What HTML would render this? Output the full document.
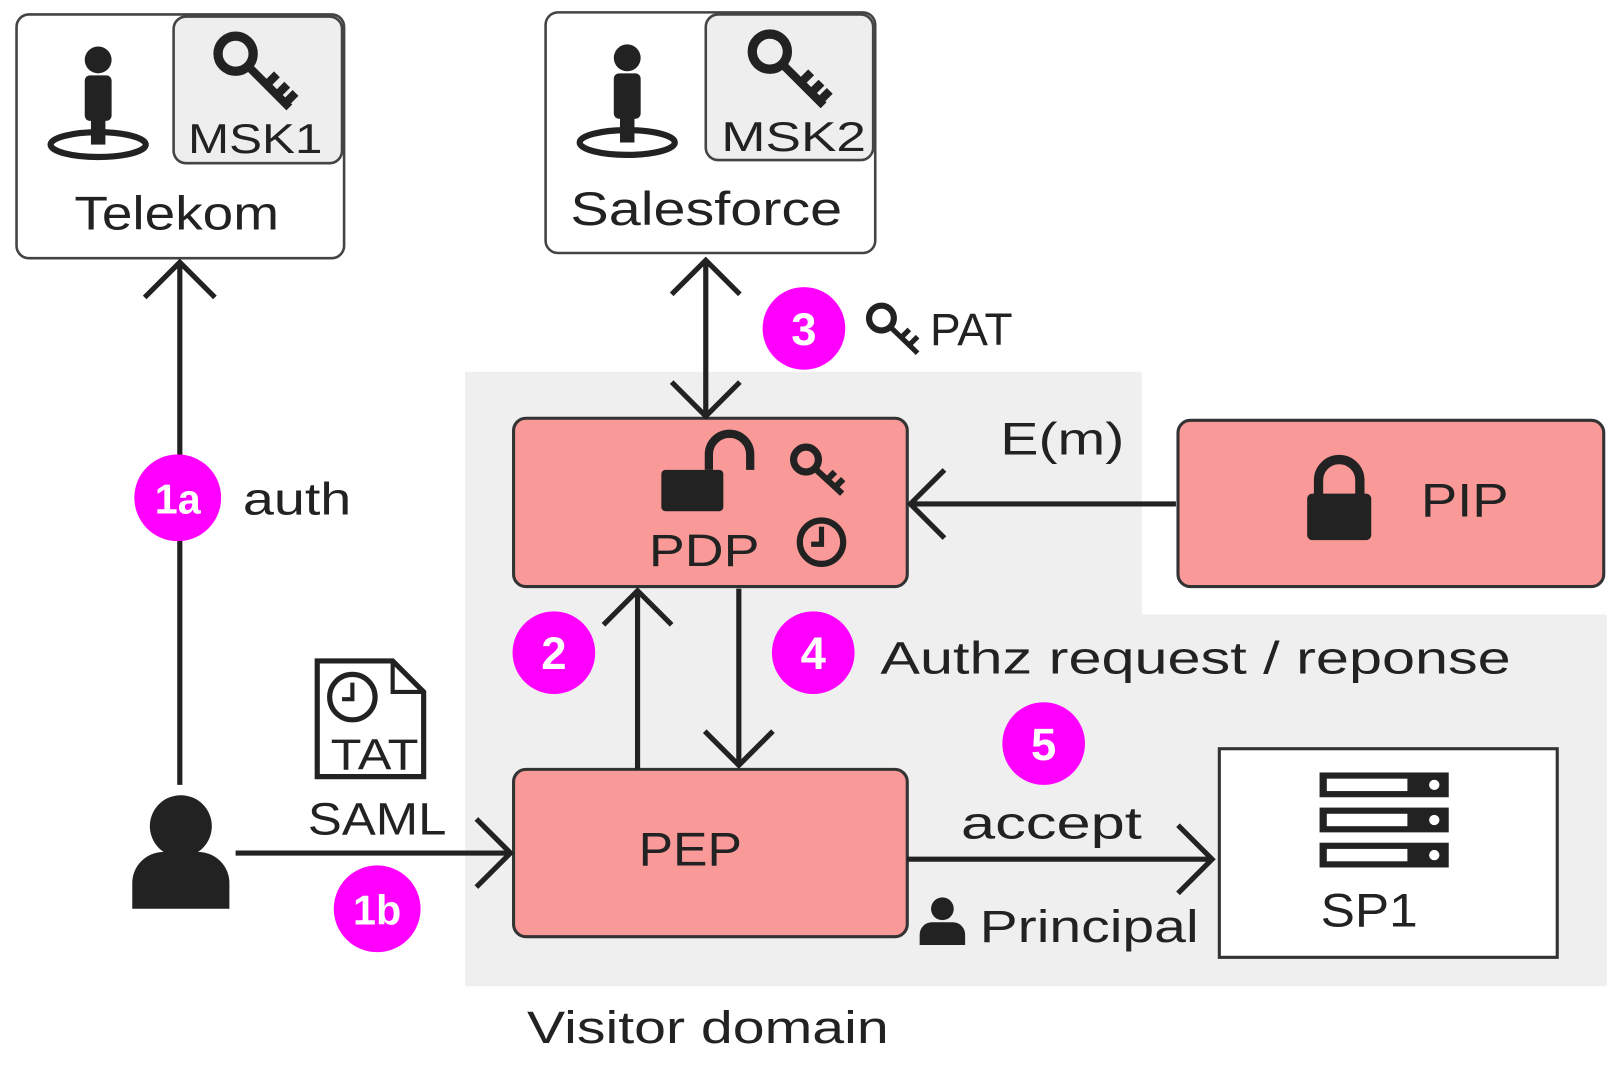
<!DOCTYPE html>
<html><head><meta charset="utf-8"><style>
html,body{margin:0;padding:0;background:#fff;}
svg{display:block;}
text{font-family:"Liberation Sans",sans-serif;fill:#222;}
</style></head><body>
<svg width="1612" height="1073" viewBox="0 0 1560 1039" preserveAspectRatio="none" xmlns="http://www.w3.org/2000/svg">
<defs>
<g id="person">
<circle cx="0" cy="-42" r="13" fill="#222"/>
<rect x="-13" y="-27" width="26" height="44" rx="5" fill="#222"/>
<rect x="-7" y="10" width="14" height="30" fill="#222"/>
<ellipse cx="0" cy="40" rx="46" ry="12" fill="none" stroke="#222" stroke-width="6"/>
</g>
<g id="key">
<circle cx="0" cy="0" r="17" fill="none" stroke="#222" stroke-width="9"/>
<path d="M12 12 L52 52 M30 30 L40 20 M40 40 L50 30 M48 48 L58 38" stroke="#222" stroke-width="8" fill="none"/>
</g>
</defs>
<path d="M450 360 H1105 V595 H1555 V955 H450 Z" fill="#efefef"/>

<rect x="16" y="14" width="317" height="236" rx="12" fill="#fff" stroke="#444" stroke-width="2.5"/>
<rect x="168" y="16" width="163" height="142" rx="12" fill="#eee" stroke="#444" stroke-width="2.5"/>
<use href="#person" x="95" y="100"/>
<use href="#key" x="228" y="52"/>
<text x="182" y="148" font-size="40" textLength="130" lengthAdjust="spacingAndGlyphs">MSK1</text>
<text x="72" y="222" font-size="46" textLength="198" lengthAdjust="spacingAndGlyphs">Telekom</text>

<rect x="528" y="12" width="319" height="233" rx="12" fill="#fff" stroke="#444" stroke-width="2.5"/>
<rect x="683" y="14" width="162" height="141" rx="12" fill="#eee" stroke="#444" stroke-width="2.5"/>
<use href="#person" x="607" y="98"/>
<use href="#key" x="745" y="50"/>
<text x="698" y="146" font-size="40" textLength="140" lengthAdjust="spacingAndGlyphs">MSK2</text>
<text x="552" y="218" font-size="46" textLength="263" lengthAdjust="spacingAndGlyphs">Salesforce</text>

<rect x="497" y="405" width="381" height="163" rx="12" fill="#f99a98" stroke="#333" stroke-width="3"/>
<rect x="640" y="455" width="60" height="40" rx="4" fill="#222"/>
<path d="M686 455 V440 a20 20 0 0 1 40 0 V455" fill="none" stroke="#222" stroke-width="8"/>
<circle cx="780" cy="445" r="12" fill="none" stroke="#222" stroke-width="7"/>
<path d="M789 454 L815 478 M800 465 L808 457 M808 472 L816 464" stroke="#222" stroke-width="6" fill="none"/>
<circle cx="795" cy="525" r="21" fill="none" stroke="#222" stroke-width="6"/>
<path d="M795 510 V527 H785" stroke="#222" stroke-width="5" fill="none"/>
<text x="628" y="548" font-size="44" textLength="107" lengthAdjust="spacingAndGlyphs">PDP</text>

<rect x="1140" y="407" width="412" height="161" rx="12" fill="#f99a98" stroke="#333" stroke-width="3"/>
<rect x="1265" y="478" width="62" height="45" rx="5" fill="#222"/>
<path d="M1276 480 V465 a20 20 0 0 1 40 0 V480" fill="none" stroke="#222" stroke-width="9"/>
<text x="1375" y="500" font-size="46" textLength="85" lengthAdjust="spacingAndGlyphs">PIP</text>

<rect x="497" y="745" width="381" height="162" rx="12" fill="#f99a98" stroke="#333" stroke-width="3"/>
<text x="618" y="838" font-size="46" textLength="100" lengthAdjust="spacingAndGlyphs">PEP</text>

<rect x="1180" y="725" width="327" height="202" fill="#fff" stroke="#333" stroke-width="3"/>
<g fill="#222">
<rect x="1277" y="748" width="125" height="24"/><rect x="1277" y="782" width="125" height="24"/><rect x="1277" y="816" width="125" height="24"/>
</g>
<g fill="#fff">
<rect x="1284" y="754" width="78" height="12"/><rect x="1284" y="788" width="78" height="12"/><rect x="1284" y="822" width="78" height="12"/>
<circle cx="1388" cy="760" r="5"/><circle cx="1388" cy="794" r="5"/><circle cx="1388" cy="828" r="5"/>
</g>
<text x="1278" y="897" font-size="46" textLength="94" lengthAdjust="spacingAndGlyphs">SP1</text>

<g stroke="#222" stroke-width="5" fill="none">
<path d="M174 760 V254 M140 288 L174 254 L208 288"/>
<path d="M683 252 V402 M650 285 L683 252 L716 285 M650 370 L683 403 L716 370"/>
<path d="M1138 488 H881 M914 455 L881 488 L914 521"/>
<path d="M617 745 V572 M584 605 L617 572 L650 605"/>
<path d="M715 570 V741 M682 708 L715 741 L748 708"/>
<path d="M228 826 H494 M461 793 L494 826 L461 859"/>
<path d="M878 832 H1173 M1140 799 L1173 832 L1140 865"/>
</g>

<g fill="#ff00ff">
<circle cx="172" cy="482" r="42"/><circle cx="778" cy="318" r="40"/><circle cx="536" cy="632" r="40"/>
<circle cx="787" cy="632" r="40"/><circle cx="1010" cy="720" r="40"/><circle cx="365" cy="880" r="42"/>
</g>
<g font-size="44" font-weight="bold" text-anchor="middle">
<text x="172" y="497" style="fill:#fff" font-size="40">1a</text>
<text x="778" y="334" style="fill:#fff">3</text>
<text x="536" y="648" style="fill:#fff">2</text>
<text x="787" y="648" style="fill:#fff">4</text>
<text x="1010" y="736" style="fill:#fff">5</text>
<text x="365" y="895" style="fill:#fff" font-size="40">1b</text>
</g>

<text x="235" y="498" font-size="44" textLength="105" lengthAdjust="spacingAndGlyphs">auth</text>
<circle cx="853" cy="308" r="12" fill="none" stroke="#222" stroke-width="6"/>
<path d="M861 316 L888 342 M872 327 L880 319 M880 334 L888 326" stroke="#222" stroke-width="5" fill="none"/>
<text x="900" y="334" font-size="44" textLength="80" lengthAdjust="spacingAndGlyphs">PAT</text>
<text x="968" y="440" font-size="44" textLength="120" lengthAdjust="spacingAndGlyphs">E(m)</text>
<text x="852" y="652" font-size="44" textLength="610" lengthAdjust="spacingAndGlyphs">Authz request / reponse</text>

<circle cx="175" cy="800" r="30" fill="#222"/>
<path d="M128 880 V855 a30 30 0 0 1 30 -30 H192 a30 30 0 0 1 30 30 V880 Z" fill="#222"/>

<path d="M307 640 H380 L410 670 V752 H307 Z" fill="#fff" stroke="#222" stroke-width="5"/>
<path d="M380 640 V670 H410" fill="none" stroke="#222" stroke-width="4"/>
<circle cx="341" cy="675" r="22" fill="#fff" stroke="#222" stroke-width="5"/>
<path d="M341 661 V677 H331" stroke="#222" stroke-width="4" fill="none"/>
<text x="320" y="745" font-size="42" textLength="85" lengthAdjust="spacingAndGlyphs">TAT</text>
<text x="298" y="808" font-size="44" textLength="134" lengthAdjust="spacingAndGlyphs">SAML</text>

<text x="930" y="812" font-size="44" textLength="175" lengthAdjust="spacingAndGlyphs">accept</text>
<circle cx="912" cy="880" r="11" fill="#222"/>
<path d="M890 915 V905 a12 12 0 0 1 12 -12 H922 a12 12 0 0 1 12 12 V915 Z" fill="#222"/>
<text x="948" y="912" font-size="44" textLength="212" lengthAdjust="spacingAndGlyphs">Principal</text>
<text x="510" y="1010" font-size="44" textLength="350" lengthAdjust="spacingAndGlyphs">Visitor domain</text>
</svg>
</body></html>
